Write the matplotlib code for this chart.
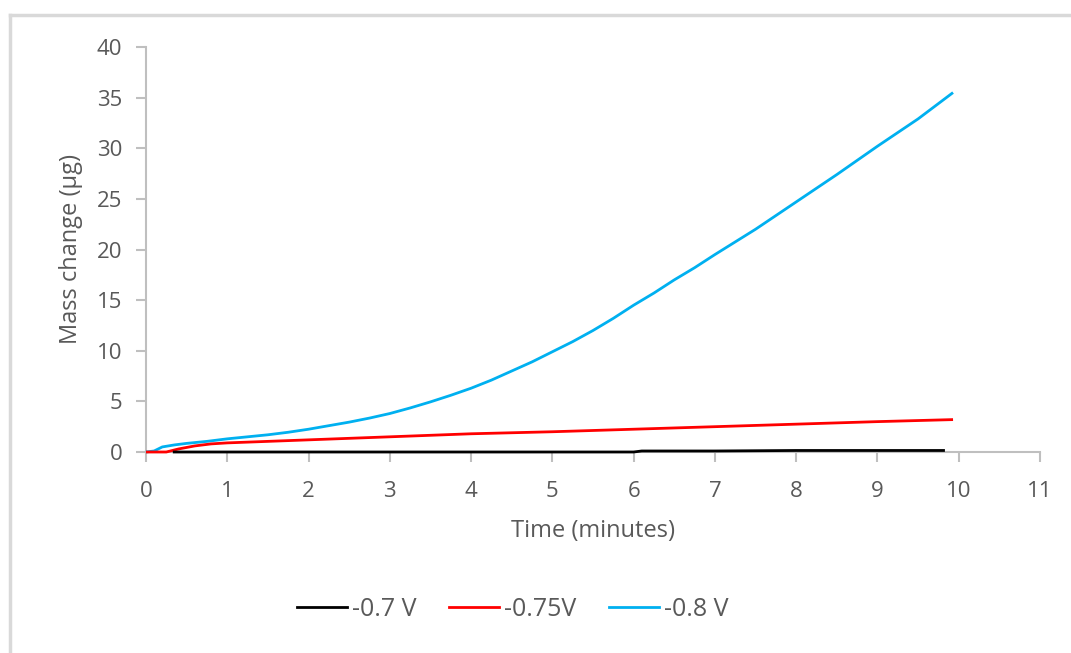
import matplotlib
matplotlib.use("Agg")
import matplotlib.pyplot as plt
from matplotlib.lines import Line2D

# Data
t_07 = [0.33, 0.5, 1.0, 2.0, 3.0, 4.0, 5.0, 6.0, 6.1, 7.0, 8.0, 9.0, 9.83]
m_07 = [0.0, 0.0, 0.0, 0.0, 0.0, 0.0, 0.0, 0.0, 0.1, 0.1, 0.15, 0.15, 0.15]

t_075 = [0.0, 0.25, 0.4, 0.6, 0.8, 1.0, 1.5, 2.0, 2.5, 3.0, 3.5, 4.0, 5.0, 6.0, 7.0, 8.0, 9.0, 9.93]
m_075 = [0.0, 0.0, 0.3, 0.6, 0.8, 0.9, 1.05, 1.2, 1.35, 1.5, 1.65, 1.8, 2.0, 2.25, 2.5, 2.75, 3.0, 3.2]

t_08 = [0.0, 0.1, 0.2, 0.35, 0.5, 0.75, 1.0, 1.25, 1.5, 1.75, 2.0, 2.25, 2.5, 2.75, 3.0, 3.25,
        3.5, 3.75, 4.0, 4.25, 4.5, 4.75, 5.0, 5.25, 5.5, 5.75, 6.0, 6.25, 6.5, 6.75, 7.0,
        7.5, 8.0, 8.5, 9.0, 9.5, 9.93]
m_08 = [0.0, 0.1, 0.5, 0.7, 0.85, 1.05, 1.3, 1.5, 1.7, 1.95, 2.25, 2.6, 2.95, 3.35, 3.8, 4.35,
        4.95, 5.6, 6.3, 7.1, 8.0, 8.9, 9.9, 10.9, 12.0, 13.2, 14.5, 15.7, 17.0, 18.2, 19.5,
        22.0, 24.7, 27.4, 30.2, 32.9, 35.5]

series_labels = ["-0.7 V", "-0.75V", "-0.8 V"]
colors = ["#000000", "#FF0000", "#00B0F0"]

x_ticks = list(range(0, 12))
y_ticks = list(range(0, 45, 5))

plt.rcParams['font.family'] = ['Open Sans', 'DejaVu Sans']
txt = "#595959"
grid_c = "#BFBFBF"

fig = plt.figure(figsize=(10.71, 6.53), dpi=100)
ax = fig.add_axes([146/1071, 1-452/653, (1040-146)/1071, (452-47)/653])

zorders = [5, 4, 3]
for t, m, c, lab, z in zip([t_07, t_075, t_08], [m_07, m_075, m_08], colors, series_labels, zorders):
    ax.plot(t, m, color=c, lw=2.0, label=lab, solid_capstyle='butt', clip_on=False, zorder=z)

ax.set_xlim(0, 11)
ax.set_ylim(0, 40)
ax.set_xticks(x_ticks)
ax.set_yticks(y_ticks)
for s in ['top', 'right']:
    ax.spines[s].set_visible(False)
for s in ['left', 'bottom']:
    ax.spines[s].set_color(grid_c)
    ax.spines[s].set_linewidth(1.5)
    ax.spines[s].set_zorder(1)
ax.tick_params(axis='both', direction='out', length=7, width=1.5, color=grid_c,
               labelcolor=txt, labelsize=16)
ax.tick_params(axis='x', pad=14)
ax.tick_params(axis='y', pad=10)
ax.set_xlabel("Time (minutes)", fontsize=17, color=txt, labelpad=12)
ax.set_ylabel("Mass change (µg)", fontsize=17, color=txt, labelpad=10)

handles = [Line2D([0], [0], color=c, lw=2) for c in colors]
fig.legend(handles, series_labels, loc='center', bbox_to_anchor=(513/1071, 1-609/653),
           ncol=3, frameon=False, fontsize=18, labelcolor=txt, handlelength=2.0,
           handletextpad=0.2, columnspacing=1.3)

# partial chart border (top and left visible)
fig.add_artist(Line2D([10/1071, 1.0], [1-15/653, 1-15/653], color="#D9D9D9", lw=2.5,
                      transform=fig.transFigure))
fig.add_artist(Line2D([10/1071, 10/1071], [1-15/653, 0.0], color="#D9D9D9", lw=2.5,
                      transform=fig.transFigure))

fig.savefig("out.png", dpi=100, facecolor="white")
